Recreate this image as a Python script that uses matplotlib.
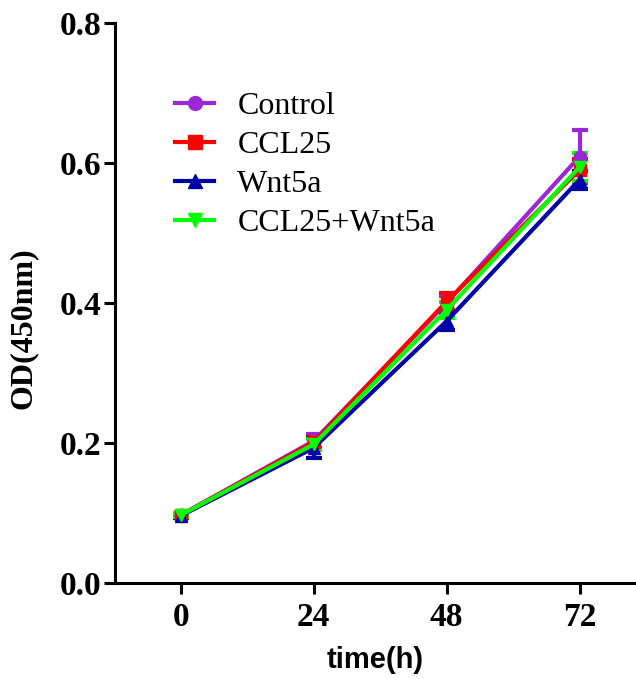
import matplotlib
matplotlib.use('Agg')
import matplotlib.pyplot as plt
from matplotlib.lines import Line2D

# time points (h)
hours = [0, 24, 48, 72]

# mean OD values per group
control = [0.097, 0.203, 0.400, 0.609]
ccl25 = [0.097, 0.201, 0.402, 0.590]
wnt5a = [0.096, 0.193, 0.374, 0.576]
combo = [0.097, 0.198, 0.390, 0.594]

# error bars (SD)
control_err = [0.003, 0.010, 0.010, 0.038]
ccl25_err = [0.003, 0.008, 0.012, 0.016]
wnt5a_err = [0.003, 0.014, 0.012, 0.013]
combo_err = [0.003, 0.008, 0.012, 0.020]

labels = ['Control', 'CCL25', 'Wnt5a', 'CCL25+Wnt5a']
colors = ['#9B27D6', '#FF0000', '#0000A8', '#00FF00']
markers = ['o', 's', '^', 'v']

fig = plt.figure(figsize=(6.36, 6.79), dpi=100)
ax = fig.add_axes([0.181, 0.1414, 0.819, 0.8249])

series = [(control, control_err), (ccl25, ccl25_err), (wnt5a, wnt5a_err), (combo, combo_err)]
handles = []
for (vals, errs), lab, col, mk in zip(series, labels, colors, markers):
    ax.errorbar(hours, vals, yerr=errs, color=col, marker=mk, markersize=9,
                linewidth=3, elinewidth=3, capsize=6, capthick=3)
    handles.append(Line2D([], [], color=col, marker=mk, markersize=10, linewidth=3, label=lab))

ax.set_xlim(-11.86, 82.2)
ax.set_ylim(0, 0.8)
ax.set_xticks(hours)
ax.set_yticks([0.0, 0.2, 0.4, 0.6, 0.8])
ax.set_yticklabels(['0.0', '0.2', '0.4', '0.6', '0.8'])

for s in ['top', 'right']:
    ax.spines[s].set_visible(False)
for s in ['left', 'bottom']:
    ax.spines[s].set_linewidth(2.2)

ax.tick_params(axis='both', width=2.2, length=8, direction='out')
for lbl in ax.get_xticklabels() + ax.get_yticklabels():
    lbl.set_fontfamily('Liberation Serif')
    lbl.set_fontweight('bold')
    lbl.set_fontsize(24)
ax.tick_params(axis='y', pad=2)
ax.tick_params(axis='x', pad=6)

ax.set_ylabel('OD(450nm)', fontfamily='Liberation Serif', fontweight='bold', fontsize=23)
ax.yaxis.set_label_coords(-0.148, 0.455)
ax.set_xlabel('time(h)', fontfamily='Liberation Sans', fontweight='bold', fontsize=21, labelpad=9)

ax.legend(handles=handles, loc='upper left', bbox_to_anchor=(0.085, 0.905), frameon=False,
          prop={'family': 'Liberation Serif', 'size': 23},
          handlelength=1.22, handletextpad=0.72, labelspacing=0.3, borderpad=0)

fig.savefig('out.png', dpi=100)
